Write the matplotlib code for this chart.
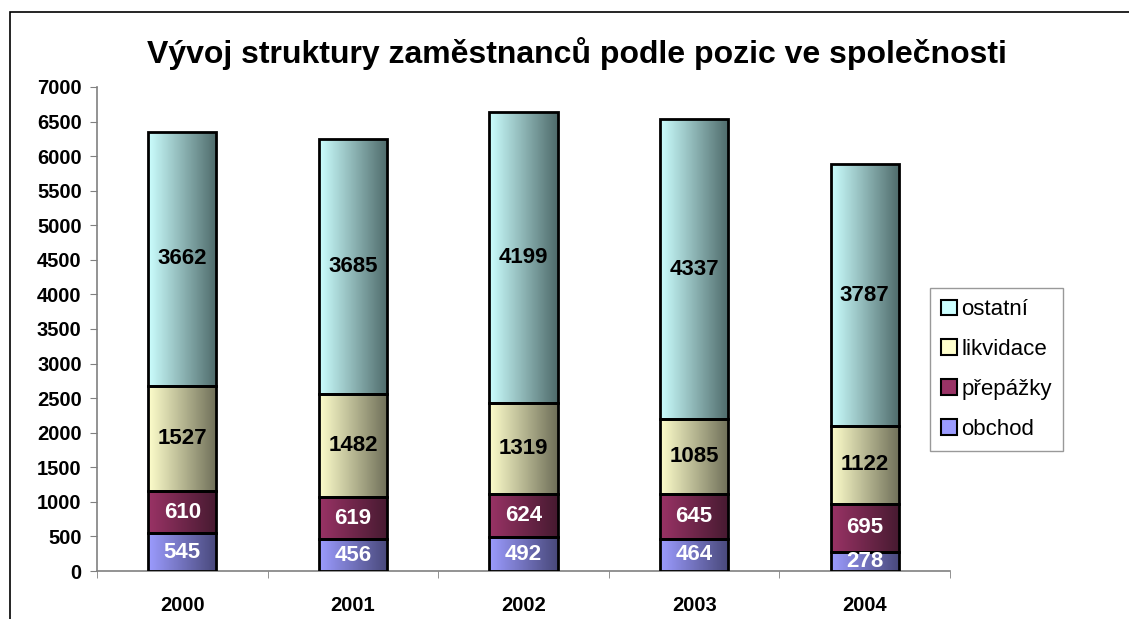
import numpy as np
import matplotlib
matplotlib.use("Agg")
import matplotlib.pyplot as plt
from matplotlib.colors import LinearSegmentedColormap
from matplotlib.patches import Rectangle, Patch

plt.rcParams['font.family'] = ['Liberation Sans', 'DejaVu Sans']

# data
years = ['2000', '2001', '2002', '2003', '2004']
obchod = [545, 456, 492, 464, 278]
prepazky = [610, 619, 624, 645, 695]
likvidace = [1527, 1482, 1319, 1085, 1122]
ostatni = [3662, 3685, 4199, 4337, 3787]
series_names = ['obchod', 'přepážky', 'likvidace', 'ostatní']
title = 'Vývoj struktury zaměstnanců podle pozic ve společnosti'

# gradient ends (left, right) and label colour per series
grad = [('#9c9cff', '#48487a'), ('#9a3366', '#461a30'),
        ('#ffffcc', '#6e6e58'), ('#ccffff', '#4e6a6a')]
label_col = ['white', 'white', 'black', 'black']

fig = plt.figure(figsize=(11.29, 6.19), dpi=100)
ax = fig.add_axes([0.0859, 0.0775, 0.7556, 0.782])

# outer chart frame
fig.add_artist(Rectangle((10 / 1129, -0.1), 1.2, 1 - 12 / 619 + 0.1,
                         transform=fig.transFigure, fill=False,
                         edgecolor='black', linewidth=1.2))

x = np.arange(len(years))
width = 0.4
bottom = np.zeros(len(years))
grad_img = np.linspace(0, 1, 256).reshape(1, -1)
for i, vals in enumerate([obchod, prepazky, likvidace, ostatni]):
    vals = np.array(vals, dtype=float)
    cmap = LinearSegmentedColormap.from_list('g%d' % i, grad[i])
    bars = ax.bar(x, vals, width, bottom=bottom, color='none',
                  edgecolor='black', linewidth=2, zorder=3)
    for b in bars:
        x0, y0 = b.get_x(), b.get_y()
        im = ax.imshow(grad_img, cmap=cmap, aspect='auto', zorder=2,
                       extent=(x0, x0 + b.get_width(), y0, y0 + b.get_height()),
                       interpolation='bilinear')
        im.set_clip_path(b)
    for xi, v, b0 in zip(x, vals, bottom):
        ax.text(xi, b0 + v / 2, '%d' % v, ha='center', va='center',
                fontsize=16, fontweight='bold', color=label_col[i], zorder=4)
    bottom += vals

ax.set_xlim(-0.5, 4.5)
ax.set_ylim(0, 7000)
ax.set_yticks(np.arange(0, 7001, 500))
ax.tick_params(axis='y', labelsize=14.5, length=5, color='#808080', pad=6)
for lab in ax.get_yticklabels():
    lab.set_fontweight('bold')
ax.set_xticks(x)
ax.set_xticklabels(years, fontsize=14.5, fontweight='bold')
ax.tick_params(axis='x', length=0, pad=18)
ax.set_xticks(np.arange(-0.5, 5, 1), minor=True)
ax.tick_params(axis='x', which='minor', length=5, color='#808080')
for s in ['top', 'right']:
    ax.spines[s].set_visible(False)
for s in ['left', 'bottom']:
    ax.spines[s].set_color('#808080')
    ax.spines[s].set_linewidth(1.2)

fig.text(0.511, 0.913, title, ha='center', va='center',
         fontsize=23, fontweight='bold')

handles = [Patch(facecolor=grad[i][0], edgecolor='black', linewidth=1.5)
           for i in range(4)][::-1]
leg = fig.legend(handles, series_names[::-1], loc='upper left',
                 bbox_to_anchor=(930 / 1129, 1 - 288 / 619), fontsize=16,
                 frameon=True, fancybox=False, edgecolor='#808080',
                 handlelength=0.7, handleheight=0.7, handletextpad=0.2,
                 labelspacing=0.85, borderpad=0.5, borderaxespad=0)
leg.get_frame().set_linewidth(1.0)

fig.savefig('out.png', dpi=100)
